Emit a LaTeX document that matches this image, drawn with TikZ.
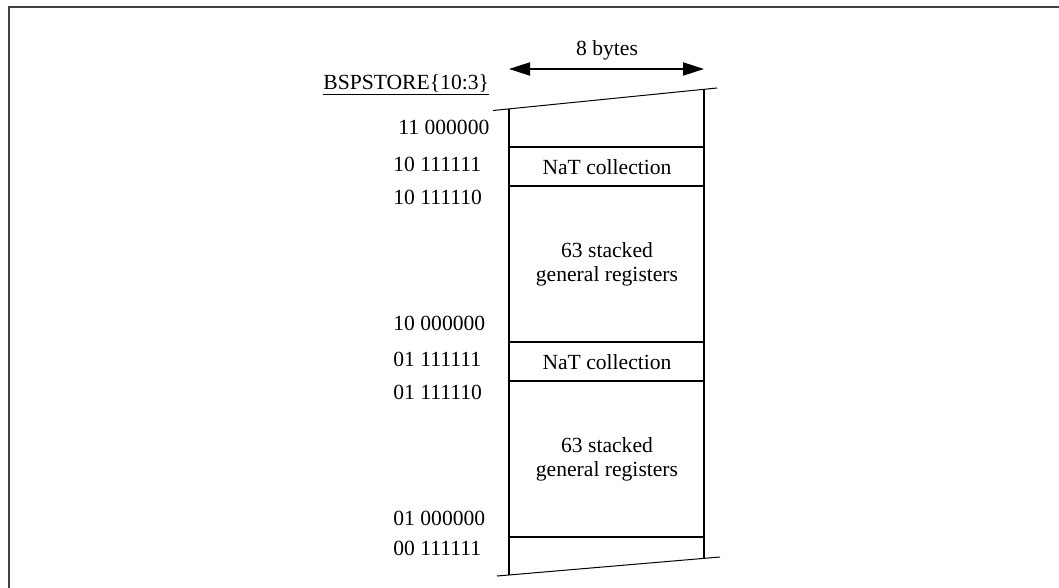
\documentclass[tikz,border=0pt]{standalone}
\usepackage{fontspec}
\setmainfont{Liberation Serif}
\usetikzlibrary{arrows.meta}

\begin{document}
\begin{tikzpicture}[
  x=0.5pt, y=-0.5pt,
  font=\fontsize{10.8}{12}\selectfont,
  frame/.style = {draw=black!75, line width=1pt},
  wall/.style  = {draw, line width=1pt},
  cut/.style   = {draw, line width=0.5pt},
  addr/.style  = {anchor=west, inner sep=0pt},
  cell/.style  = {align=center, inner sep=0pt},
  span/.style  = {draw, line width=1pt,
                  {Triangle[length=10.5pt,width=6.5pt]}-{Triangle[length=10.5pt,width=6.5pt]}},
]
\useasboundingbox (0,0) rectangle (1059,588);

% =============== frame ===============
\draw[frame] (8.5,588) -- (8.5,7.5) -- (1059,7.5);

% =============== width of one slot ===============
\coordinate (wl) at (509,69);
\coordinate (wr) at (704,69);
\draw[span] (wl) -- (wr);
\node[cell] (width) at (607,50) {8 bytes};

\node[addr] (bsp) at (323,85) {\underline{BSPSTORE\{10:3\}}};

% =============== backing store column ===============
\coordinate (tl) at (493,110.5);   \coordinate (tr) at (717,88);
\coordinate (bl) at (497,576);     \coordinate (br) at (720,557);
\draw[cut] (tl) -- (tr);
\draw[cut] (bl) -- (br);
\draw[wall] (509,109) -- (509,575.3);
\draw[wall] (704,89.3) -- (704,558.4);
\foreach \y in {147,186,342,381,537}
  \draw[wall] (509,\y) -- (704,\y);

\node[cell] (nat1) at (607,167) {NaT collection};
\node[cell] (gr1)  at (607,264) {63 stacked\\general registers};
\node[cell] (nat2) at (607,362) {NaT collection};
\node[cell] (gr2)  at (607,459) {63 stacked\\general registers};

% addresses
\node[addr] (a1) at (398,127) {11 000000};
\foreach \n/\y/\t in {a2/164/{10 111111}, a3/197/{10 111110}, a4/323/{10 000000},
                      a5/359/{01 111111}, a6/392/{01 111110}, a7/518/{01 000000},
                      a8/548/{00 111111}}
  \node[addr] (\n) at (393,\y) {\t};

\end{tikzpicture}
\end{document}
